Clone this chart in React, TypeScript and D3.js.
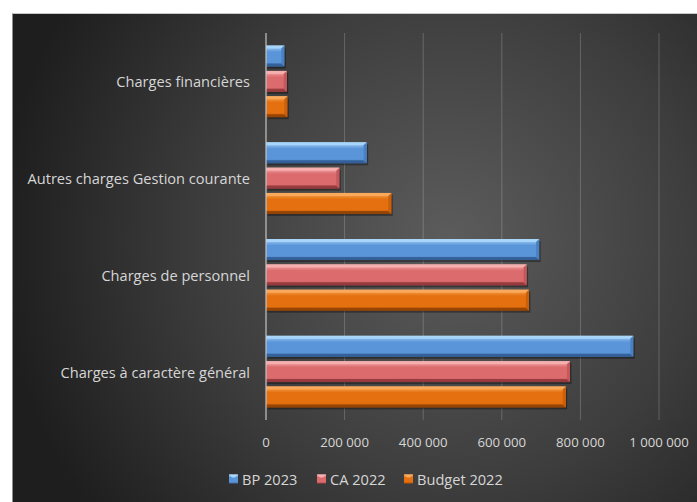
import React from "react";
import * as d3 from "d3";

const categories = [
  "Charges financières",
  "Autres charges Gestion courante",
  "Charges de personnel",
  "Charges à caractère général",
];
const seriesNames = ["BP 2023", "CA 2022", "Budget 2022"];
const bp2023 = [46600, 256000, 695000, 934500];
const ca2022 = [52700, 186500, 663000, 773500];
const budget2022 = [54200, 318800, 669000, 762600];
const xTicks = [0, 200000, 400000, 600000, 800000, 1000000];

const seriesValues = [bp2023, ca2022, budget2022];
const palette = [
  { top: "#a9d6fb", mid: "#5b95d9", bot: "#3d6eae", cap: "#4a80c4", dark: "#2f5a90" },
  { top: "#f6b0b0", mid: "#dc6b6e", bot: "#ad4649", cap: "#c4585b", dark: "#8d3538" },
  { top: "#fbab5e", mid: "#e4700f", bot: "#b25206", cap: "#cc6009", dark: "#8a3e04" },
];

const W = 697;
const H = 502;
const FONT = "'Open Sans', 'Noto Sans', sans-serif";
const TEXT = "#d6d6d6";

const fmt = d3.formatLocale({ decimal: ",", thousands: " ", grouping: [3], currency: ["", ""] }).format(",d");

function Bar({ x0, x1, y, h, c, id }: any) {
  const b = Math.min(3, (x1 - x0) / 3);
  const y1 = y + h;
  return (
    <g>
      <rect x={x0 + 1.5} y={y + 2} width={x1 - x0} height={h} fill="#000" opacity={0.35} />
      <rect x={x0} y={y} width={x1 - x0} height={h} fill={`url(#grad${id})`} />
      <polygon points={`${x0},${y} ${x1},${y} ${x1 - b},${y + b} ${x0},${y + b}`} fill={c.top} opacity={0.9} />
      <polygon points={`${x0},${y1} ${x1},${y1} ${x1 - b},${y1 - b} ${x0},${y1 - b}`} fill={c.dark} opacity={0.8} />
      <polygon points={`${x1 - b},${y + b} ${x1},${y} ${x1},${y1} ${x1 - b},${y1 - b}`} fill={c.cap} />
    </g>
  );
}

export default function App() {
  const x = d3.scaleLinear().domain([0, 1000000]).range([266, 659]);
  const y0 = d3.scaleBand<string>().domain(categories).range([33, 420]).paddingInner(0).paddingOuter(0);
  const y1 = d3
    .scaleBand<string>()
    .domain(seriesNames)
    .range([0, y0.bandwidth()])
    .paddingInner(0.17)
    .paddingOuter(0.497);

  const legendX = [229, 317, 404];

  return (
    <svg width={W} height={H} style={{ position: "absolute", left: 0, top: 0 }} fontFamily={FONT}>
      <defs>
        <radialGradient id="bg" gradientUnits="userSpaceOnUse" cx={450} cy={240} r={450}>
          <stop offset="0" stopColor="#5c5c5c" />
          <stop offset="0.55" stopColor="#3d3d3d" />
          <stop offset="1" stopColor="#1e1e1e" />
        </radialGradient>
        {palette.map((c, i) => (
          <linearGradient key={i} id={`grad${i}`} x1="0" y1="0" x2="0" y2="1">
            <stop offset="0" stopColor={c.top} />
            <stop offset="0.3" stopColor={c.mid} />
            <stop offset="0.8" stopColor={c.mid} />
            <stop offset="1" stopColor={c.bot} />
          </linearGradient>
        ))}
      </defs>
      <rect x={0} y={0} width={W} height={H} fill="#ffffff" />
      <rect x={12.5} y={13} width={W - 12.5} height={H - 13} fill="url(#bg)" />
      <line x1={12.5} x2={W} y1={13.5} y2={13.5} stroke="#c8c8c8" strokeWidth={1} />

      {xTicks.map((t) =>
        t === 0 ? null : (
          <line key={t} x1={x(t)} x2={x(t)} y1={33} y2={420} stroke="rgba(255,255,255,0.2)" strokeWidth={1} />
        )
      )}

      {categories.map((cat, ci) => (
        <g key={cat}>
          {seriesNames.map((s, si) => (
            <Bar
              key={s}
              id={si}
              c={palette[si]}
              x0={x(0)}
              x1={x(seriesValues[si][ci])}
              y={(y0(cat) as number) + (y1(s) as number)}
              h={y1.bandwidth()}
            />
          ))}
        </g>
      ))}

      <line x1={x(0)} x2={x(0)} y1={33} y2={420} stroke="#c4c4c4" strokeWidth={1.2} />

      {categories.map((cat) => (
        <text
          key={cat}
          x={250}
          y={(y0(cat) as number) + y0.bandwidth() / 2}
          textAnchor="end"
          dominantBaseline="central"
          fontSize={14.6}
          fill={TEXT}
        >
          {cat}
        </text>
      ))}

      {xTicks.map((t) => (
        <text key={t} x={x(t)} y={442} textAnchor="middle" dominantBaseline="central" fontSize={13.2} fill={TEXT}>
          {fmt(t)}
        </text>
      ))}

      {seriesNames.map((s, i) => (
        <g key={s}>
          <rect x={legendX[i]} y={474.5} width={9} height={9} fill={`url(#grad${i})`} />
          <polygon
            points={`${legendX[i]},${474.5} ${legendX[i] + 9},${474.5} ${legendX[i] + 6},${477.5} ${legendX[i] + 3},${477.5}`}
            fill={palette[i].top}
          />
          <text x={legendX[i] + 13} y={479} dominantBaseline="central" fontSize={14.6} fill={TEXT}>
            {s}
          </text>
        </g>
      ))}
    </svg>
  );
}
